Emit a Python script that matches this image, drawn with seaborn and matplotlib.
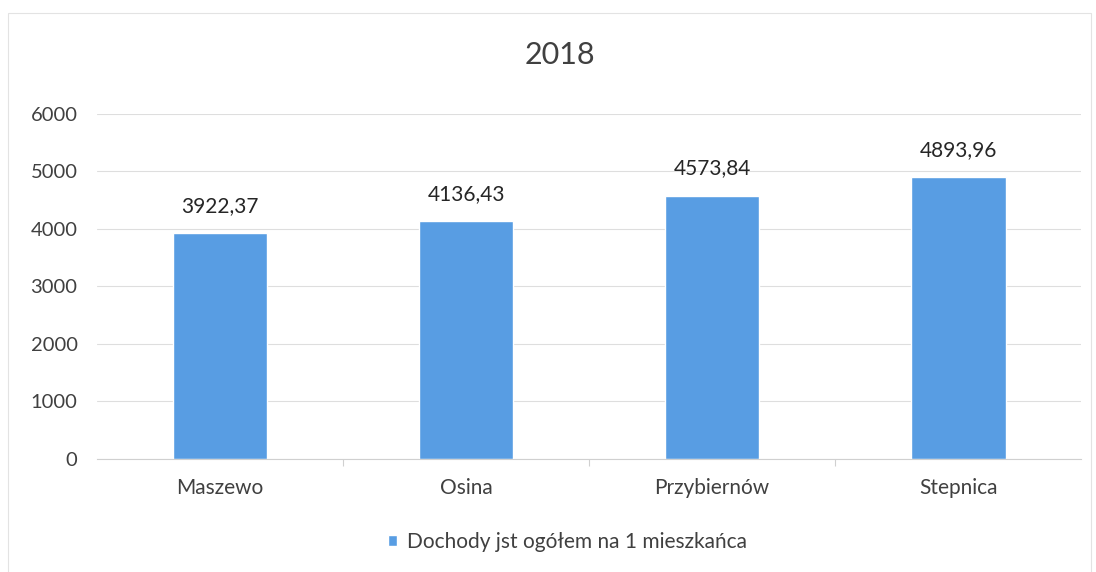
import matplotlib
matplotlib.use("Agg")
import matplotlib.pyplot as plt
import seaborn as sns
import pandas as pd

gminy = ["Maszewo", "Osina", "Przybiernów", "Stepnica"]
dochody = [3922.37, 4136.43, 4573.84, 4893.96]
series_name = "Dochody jst ogółem na 1 mieszkańca"
yticks = [0, 1000, 2000, 3000, 4000, 5000, 6000]

df = pd.DataFrame({"gmina": gminy, "wartosc": dochody})

sns.set_style("white")
plt.rcParams['font.family'] = ['Lato', 'DejaVu Sans']

fig = plt.figure(figsize=(10.96, 5.72), dpi=100)
ax = fig.add_axes([0.0885, 0.198, 0.898, 0.603])

bar_color = "#589de3"
sns.barplot(data=df, x="gmina", y="wartosc", color=bar_color, width=0.385,
            saturation=1, ax=ax, label=series_name)

ax.set_xlim(-0.5, len(gminy) - 0.5)
ax.set_ylim(0, 6000)
ax.set_yticks(yticks)
ax.set_yticklabels([str(t) for t in yticks], fontsize=14.5, color="#404040")
ax.tick_params(axis="x", labelsize=15, labelcolor="#404040", length=0, pad=14)
ax.tick_params(axis="y", length=0, pad=14)
# small category separators on the x axis, as in the original
ax.set_xticks([i + 0.5 for i in range(len(gminy) - 1)], minor=True)
ax.tick_params(axis="x", which="minor", length=5, color="#d0d0d0", width=0.8, bottom=True)
ax.yaxis.grid(True, color="#dedede", linewidth=0.8)
ax.set_axisbelow(True)
ax.set_xlabel("")
ax.set_ylabel("")
for s in ["top", "right", "left"]:
    ax.spines[s].set_visible(False)
ax.spines["bottom"].set_color("#d0d0d0")

for i, v in enumerate(dochody):
    ax.text(i, v + 300, f"{v:.2f}".replace(".", ","), ha="center", va="bottom",
            fontsize=15, color="#262626")

fig.text(0.511, 0.903, "2018", ha="center", va="center", fontsize=22, color="#404040")

leg = ax.legend(loc="center", bbox_to_anchor=(0.478, -0.24), frameon=False,
                fontsize=15, handlelength=0.45, handleheight=0.45,
                handletextpad=0.5)
for t in leg.get_texts():
    t.set_color("#404040")

# faint chart border
fig.patches.append(plt.Rectangle((0.0075, -0.01), 0.988, 0.987, transform=fig.transFigure,
                                 fill=False, edgecolor="#e3e3e3", linewidth=0.8))

fig.savefig("out.png", dpi=100, facecolor="white")
